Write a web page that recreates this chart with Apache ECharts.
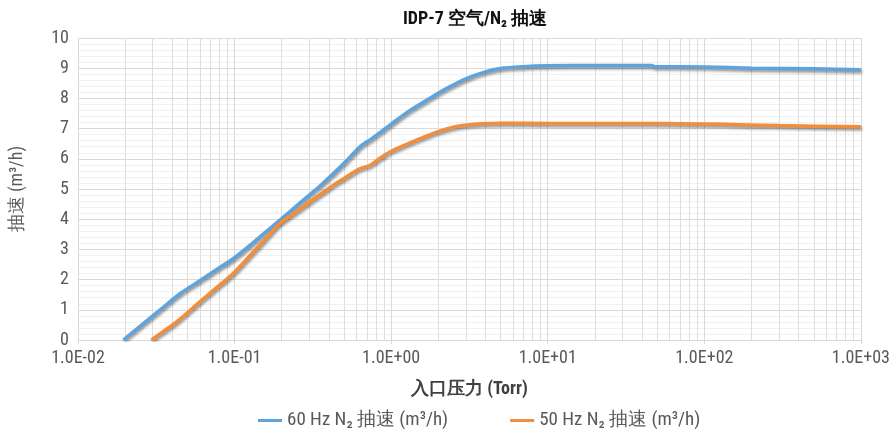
<!DOCTYPE html>
<html>
<head>
<meta charset="utf-8">
<script src="https://cdn.jsdelivr.net/npm/echarts@6/dist/echarts.min.js"></script>
<style>html,body{margin:0;padding:0;background:#fff}#c{width:893px;height:436px}</style>
</head>
<body>
<div id="c"></div>
<script>
// Pressure (Torr) and pumping speed (m3/h)
const p60 = [0.0195,0.025,0.033,0.045,0.06,0.08,0.098,0.13,0.16,0.194,0.25,0.3,0.36,0.425,0.5,0.58,0.65,0.73,0.84,1.0,1.3,1.76,2.3,3.0,4.0,5.0,7.0,10,20,46,48,100,200,500,1000];
const s60 = [0,0.46,0.97,1.54,1.96,2.39,2.69,3.2,3.6,3.96,4.45,4.8,5.15,5.5,5.85,6.2,6.45,6.62,6.85,7.15,7.58,8.0,8.35,8.65,8.88,8.99,9.05,9.08,9.09,9.09,9.05,9.04,9.0,8.98,8.95];
const p50 = [0.0295,0.035,0.0426,0.06,0.08,0.098,0.13,0.16,0.194,0.25,0.3,0.36,0.425,0.5,0.63,0.73,0.84,1.0,1.52,2.0,2.86,5.15,10,50,100,166,300,1000];
const s50 = [0,0.28,0.6,1.26,1.81,2.2,2.88,3.38,3.85,4.26,4.56,4.85,5.12,5.35,5.67,5.78,6.0,6.25,6.66,6.9,7.1,7.18,7.17,7.17,7.15,7.13,7.1,7.06];
const xTickLabels = ['1.0E-02','1.0E-01','1.0E+00','1.0E+01','1.0E+02','1.0E+03'];
const seriesNames = ['60 Hz N\u2082 抽速 (m\u00b3/h)','50 Hz N\u2082 抽速 (m\u00b3/h)'];

const FONT = "'Roboto Condensed','Liberation Sans Narrow','Roboto',sans-serif";
const minorX = [];
for (let e = -2; e < 3; e++) for (let k = 2; k <= 9; k++) minorX.push({xAxis: k * Math.pow(10, e)});

const chart = echarts.init(document.getElementById('c'));
const shadow = {shadowColor:'rgba(0,0,0,0.45)', shadowBlur:3, shadowOffsetX:1, shadowOffsetY:2};
chart.setOption({
  animation:false,
  title:{text:'IDP-7 空气/N\u2082 抽速', left:470, top:5, textAlign:'center',
    textStyle:{fontFamily:FONT, fontSize:18, fontWeight:'bold', color:'#111'}},
  grid:{left:78, right:31, top:38, bottom:96},
  legend:{bottom:1, left:253, itemGap:62, itemWidth:24, itemHeight:3,
    icon:'rect',
    textStyle:{fontFamily:FONT, fontSize:19, color:'#595959'}},
  xAxis:{type:'log', logBase:10, min:0.01, max:1000,
    name:'入口压力 (Torr)', nameLocation:'middle', nameGap:40,
    nameTextStyle:{fontFamily:FONT, fontSize:18, fontWeight:'bold', color:'#404040'},
    axisLine:{lineStyle:{color:'#d9d9d9'}},
    axisTick:{show:true, length:4, lineStyle:{color:'#d9d9d9'}},
    axisLabel:{fontFamily:FONT, fontSize:18, color:'#595959', margin:9,
      formatter:function(v){const e=Math.round(Math.log10(v)); return xTickLabels[e+2];}},
    splitLine:{show:true, lineStyle:{color:'#d9d9d9'}}},
  yAxis:{type:'value', min:0, max:10, interval:1,
    name:'抽速 (m\u00b3/h)', nameLocation:'middle', nameGap:52,
    nameTextStyle:{fontFamily:FONT, fontSize:18, color:'#595959'},
    axisLine:{show:false}, axisTick:{show:false},
    axisLabel:{fontFamily:FONT, fontSize:18, color:'#595959', margin:9},
    splitLine:{lineStyle:{color:'#d9d9d9'}},
    minorTick:{show:false, splitNumber:5},
    minorSplitLine:{show:true, lineStyle:{color:'#f0f0f0'}}},
  series:[
    {name:seriesNames[0], type:'line', showSymbol:false, smooth:0.3,
     data:p60.map((p,i)=>[p,s60[i]]), color:'#5fa3dc',
     lineStyle:Object.assign({width:3.5, color:'#5fa3dc'}, shadow), z:3,
     markLine:{silent:true, symbol:'none', label:{show:false}, animation:false,
       lineStyle:{color:'#dedede', width:1, type:'solid'}, data:minorX, z:1}},
    {name:seriesNames[1], type:'line', showSymbol:false, smooth:0.3,
     data:p50.map((p,i)=>[p,s50[i]]), color:'#f28e3a',
     lineStyle:Object.assign({width:3.5, color:'#f28e3a'}, shadow), z:4}
  ]
});
</script>
</body>
</html>
